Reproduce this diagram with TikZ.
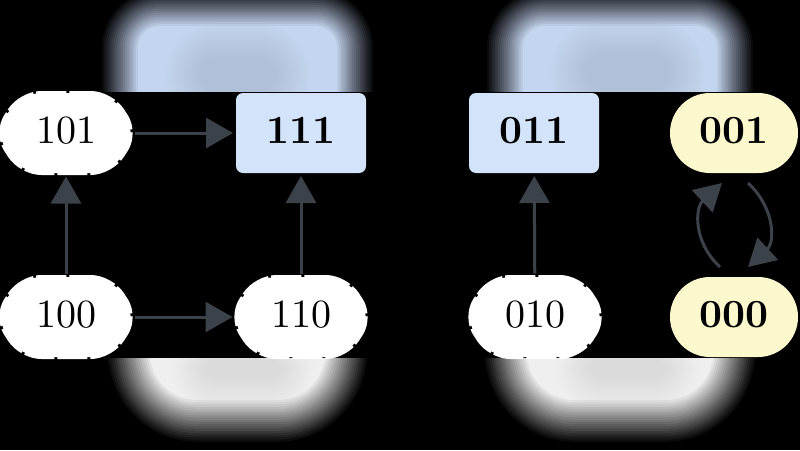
\documentclass[tikz,border=0pt]{standalone}
\usetikzlibrary{arrows.meta}
\definecolor{arrowc}{HTML}{3C424A}
\definecolor{boxblue}{HTML}{D3E4FA}
\definecolor{boxyellow}{HTML}{FCF8CD}
\definecolor{blurblue}{HTML}{C4D6EF}
\definecolor{blurbluedark}{HTML}{A3B4CC}
\definecolor{blurwhite}{HTML}{EFEFEF}
\definecolor{blurwhitedark}{HTML}{D4D4D4}
% linear-ramp soft blob: x1 y1 x2 y2 color radius maxopacity step (20 layers)
\newcommand\myblob[8]{%
  \foreach \k in {20,19,...,1}{
    \pgfmathsetmacro\myop{#7/(20*(1-#7)+#7*\k)}
    \fill[#5, fill opacity=\myop, rounded corners=#6+\k*#8]
      (#1-\k*#8+#8, #2-\k*#8+#8) rectangle (#3+\k*#8-#8, #4+\k*#8-#8);
  }}
\newcommand\mytxt[1]{\scalebox{4}{\fontsize{10}{12}\selectfont #1}}
\newcommand\mywnode[4]{% name, x, y, text
  \filldraw[whiteshape] (#2,#3-40) -- (#2+45,#3-40) -- (#2+71,#3) -- (#2+45,#3+40)
    -- (#2-45,#3+40) -- (#2-71,#3) -- (#2-45,#3-40) -- cycle;
  \node[lbl, minimum width=134pt, minimum height=84pt] (#1) at (#2,#3) {\mytxt{#4}};}
\tikzset{
  lbl/.style={text depth=6pt, inner sep=0pt, outer sep=1.5pt},
  whiteshape/.style={fill=white, draw=white, line width=4pt, dash pattern=on 30pt off 3pt,
    rounded corners=20pt},
  bluenode/.style={lbl, outer sep=3pt, minimum width=130pt, minimum height=80pt,
    fill=boxblue, rounded corners=7pt},
  yellownode/.style={lbl, outer sep=3pt, minimum width=128pt, minimum height=80pt,
    fill=boxyellow, rounded corners=39.9pt},
  arr/.style={draw=arrowc, line width=3pt, -{Triangle[length=27pt,width=30pt]}}
}
\begin{document}
\begin{tikzpicture}[x=1pt,y=-1pt]
\useasboundingbox (0,0) rectangle (800,450);
\fill[black] (0,0) rectangle (800,450);
% blurred top band
\begin{scope}
\clip (0,0) rectangle (800,91);
\myblob{138}{26}{337}{150}{blurblue}{20}{1}{1.9}
\myblob{200}{58}{275}{90}{blurbluedark}{15}{0.6}{1.8}
\myblob{523}{26}{717}{150}{blurblue}{20}{1}{1.9}
\myblob{585}{55}{670}{88}{blurbluedark}{15}{0.6}{1.8}
\end{scope}
% blurred bottom band
\begin{scope}
\clip (0,358) rectangle (800,450);
\myblob{150}{320}{325}{400}{blurwhite}{45}{1}{2.2}
\myblob{205}{360}{280}{378}{blurwhitedark}{10}{0.4}{1.8}
\myblob{527}{320}{713}{400}{blurwhite}{45}{1}{2.2}
\myblob{590}{360}{665}{378}{blurwhitedark}{10}{0.4}{1.8}
\end{scope}
% nodes
\mywnode{n101}{66}{133}{101}
\node[bluenode] (n111) at (301,133) {\mytxt{\bfseries 111}};
\node[bluenode] (n011) at (534,133) {\mytxt{\bfseries 011}};
\node[yellownode] (n001) at (734,133) {\mytxt{\bfseries 001}};
\mywnode{n100}{66}{317}{100}
\mywnode{n110}{301}{317}{110}
\mywnode{n010}{535}{317}{010}
\node[yellownode] (n000) at (734,317) {\mytxt{\bfseries 000}};
% connectors
\draw[arr] (n101) -- (n111);
\draw[arr] (n100) -- (n101);
\draw[arr] (n110) -- (n111);
\draw[arr] (n100) -- (n110);
\draw[arr] (n010) -- (n011);
\draw[arr] ([xshift=-14pt,yshift=7pt]n000.north) .. controls +(-27,-25) and +(-27,25) .. ([xshift=-12pt,yshift=-7pt]n001.south);
\draw[arr] ([xshift=14pt,yshift=-7pt]n001.south) .. controls +(27,25) and +(27,-25) .. ([xshift=14pt,yshift=7pt]n000.north);
\end{tikzpicture}
\end{document}
